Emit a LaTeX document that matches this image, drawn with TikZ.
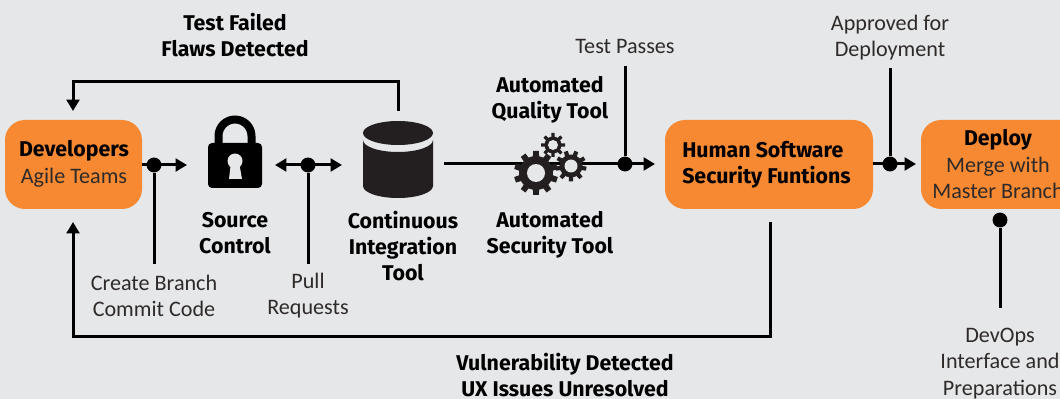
\documentclass[tikz,border=0pt]{standalone}
\usepackage{fontspec}
\setmainfont{Fira Sans}
\newfontfamily\lightf{Carlito}
\usetikzlibrary{arrows.meta}
\definecolor{bgc}{HTML}{E6E7E9}
\definecolor{boxc}{HTML}{F68932}
\definecolor{inkc}{HTML}{231F20}
\definecolor{thinc}{HTML}{2E2A29}
\newcommand{\gearshape}[6]{% x y outer root hole teeth
  \fill[inkc] (#1,#2) circle[radius=#4];
  \foreach \ga in {1,...,#6}{
    \fill[inkc,shift={(#1,#2)},rotate=\ga*360/#6]
      (-0.17*#3,0) -- (-0.13*#3,#3) -- (0.13*#3,#3) -- (0.17*#3,0) -- cycle;
  }
  \fill[bgc] (#1,#2) circle[radius=#5];
}
\tikzset{
  x=0.75pt,y=-0.75pt,
  flowline/.style={line width=2.25pt,draw=black},
  tipped/.style={flowline,-{Triangle[length=8.5pt,width=9.5pt]}},
  bothtip/.style={flowline,{Triangle[length=8.5pt,width=9.5pt]}-{Triangle[length=8.5pt,width=9.5pt]}},
  juncdot/.style={circle,fill=black,inner sep=0pt,minimum size=11.2pt},
  procbox/.style={fill=boxc,rounded corners=15pt,minimum height=66.75pt,inner sep=0pt,align=center},
  boldlab/.style={align=center,inner sep=0pt,font=\fontsize{16}{19.6}\selectfont\bfseries,text=black},
  thinlab/.style={align=center,inner sep=0pt,font=\lightf\fontsize{16.6}{19.6}\selectfont,text=thinc},
  iconbox/.style={inner sep=0pt,minimum width=#1},
}
\begin{document}
\begin{tikzpicture}
\useasboundingbox (0,0) rectangle (1060,399);
\clip (0,0) rectangle (1060,399);
\fill[bgc] (0,0) rectangle (1060,399);

% boxes
\node[procbox,minimum width=102.75pt] (dev) at (73.5,164.5) {};
\node[boldlab] (devt) at (74,151) {Developers};
\node[thinlab] (devs) at (74,178) {Agile Teams};
\node[procbox,minimum width=156pt] (human) at (769,164.5) {};
\node[boldlab,align=left,anchor=west] (humant) at (682,165) {Human Software\\Security Funtions};
\node[procbox,minimum width=120pt] (deploy) at (1001,164.5) {};
\node[boldlab] (deployt) at (998,140) {Deploy};
\node[thinlab] (deploym) at (998,178) {Merge with\\Master Branch};

% icon anchors
\node[iconbox=54pt,minimum height=54pt] (lock) at (235,152) {};
\node[iconbox=52pt,minimum height=58pt] (db) at (398,159.5) {};
\node[inner sep=0pt,minimum size=1pt] (gears) at (550,165) {};

% labels
\node[boldlab] (failed) at (235,35) {Test Failed\\Flaws Detected};
\node[thinlab] (passes) at (625,46) {Test Passes};
\node[boldlab] (quality) at (550,100) {Automated\\Quality Tool};
\node[boldlab] (security) at (550,235) {Automated\\Security Tool};
\node[boldlab] (source) at (235,233) {Source\\Control};
\node[boldlab] (ci) at (403,246) {Continuous\\Integration\\Tool};
\node[thinlab] (branch) at (154,296) {Create Branch\\Commit Code};
\node[thinlab] (pull) at (308,296) {Pull\\Requests};
\node[thinlab] (approved) at (890,38) {Approved for\\Deployment};
\node[boldlab] (vuln) at (565,375) {Vulnerability Detected\\UX Issues Unresolved};
\node[thinlab] (devops) at (1000,363.5) {DevOps\\Interface and\\Preparations};

% junctions
\node[juncdot] (j1) at (154,165) {};
\node[juncdot] (j2) at (308,165) {};
\node[juncdot] (j3) at (625,164) {};
\node[juncdot] (j4) at (890,164) {};
\node[juncdot] (j5) at (1000,220) {};

% free ends
\coordinate (devtop) at (73,111);
\coordinate (devbot) at (73,222);
\coordinate (t1) at (187,165);
\coordinate (s1) at (275,165);
\coordinate (s2) at (342,165);
\coordinate (c1) at (444,164);
\coordinate (t3) at (655,164);
\coordinate (t4) at (916,164);
\coordinate (dbtop) at (398,111);
\coordinate (humbot) at (770,222);

% connectors
\draw[tipped] (dbtop) -- (398,82) -- (73,82) -- (devtop);
\draw[tipped] (humbot) -- (770,336) -- (73,336) -- (devbot);
\draw[tipped] (dev.east |- j1) -- (t1);
\draw[bothtip] (s1) -- (s2);
\draw[tipped] (c1) -- (t3);
\draw[tipped] (human.east |- j4) -- (t4);
\draw[flowline] (j1) -- (154,264);
\draw[flowline] (j2) -- (308,264);
\draw[flowline] (625,66) -- (j3);
\draw[flowline] (890,68) -- (j4);
\draw[flowline] (j5) -- (1000,308);

% lock
\draw[black,line width=6pt] (218.5,146) -- (218.5,136) arc[start angle=180,end angle=360,radius=16.5] -- (251.5,146);
\fill[black,rounded corners=3pt] (208,143) rectangle (262,188);
\fill[bgc] (235,161) circle[radius=7.5];
\fill[bgc] (231,162) -- (239,162) -- (242,179) -- (229,179) -- cycle;

% database
\fill[inkc] (363,140) arc[start angle=180,end angle=0,x radius=35,y radius=12] -- (433,186) arc[start angle=0,end angle=180,x radius=35,y radius=12] -- cycle;
\fill[inkc] (398,133) ellipse[x radius=35,y radius=12];

% gears
\gearshape{536}{173}{22}{17}{9}{10}
\gearshape{571}{166}{15.5}{11.5}{6.5}{9}
\gearshape{553}{145}{12}{8.5}{5}{8}
\end{tikzpicture}
\end{document}
